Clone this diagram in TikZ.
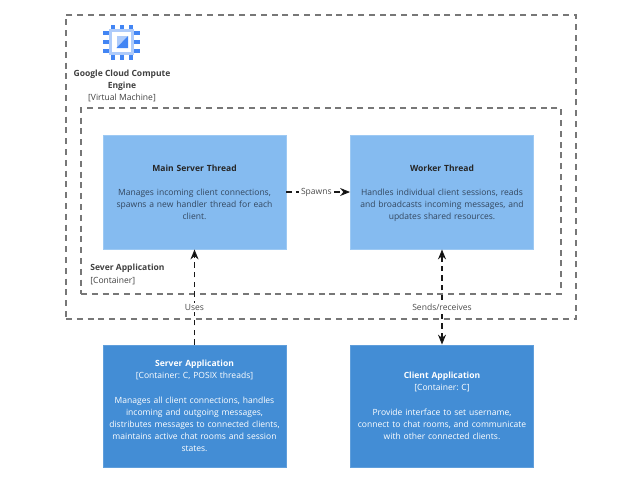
\documentclass[tikz,border=0pt]{standalone}
\usepackage{fontspec}
\setmainfont{Open Sans}
\usepackage{xcolor}
\usetikzlibrary{arrows.meta}
\definecolor{lightblock}{HTML}{85BBF0}
\definecolor{darkblock}{HTML}{438DD5}
\definecolor{chipblue}{HTML}{4285F4}
\definecolor{chiplight}{HTML}{AECBFA}
\definecolor{boundgray}{HTML}{777777}
\definecolor{desctext}{HTML}{33475F}
\newcommand{\titlerule}{\rule{0pt}{7.4pt}}
\tikzset{
    block/.style={shape=rectangle, minimum width=137.25pt, text width=130pt, align=center, font=\fontsize{6.4}{9.15}\selectfont},
    inner block/.style={block, fill=lightblock, draw=lightblock!80!white, minimum height=85.5pt, text=desctext},
    outer block/.style={block, fill=darkblock, draw=darkblock!85!white, minimum height=91.5pt, text=white},
    boundary/.style={draw=boundgray, dash pattern=on 4.5pt off 3.6pt, line width=0.85pt},
    caption/.style={align=center, text=black!75, font=\fontsize{6.4}{9.15}\selectfont},
    link/.style={draw=black!90, dash pattern=on 4pt off 3.2pt, line width=0.9pt},
    link text/.style={fill=white, text=black!70, inner sep=1.2pt, font=\fontsize{6.4}{9.15}\selectfont}
}
\begin{document}
\frenchspacing
\begin{tikzpicture}[
            x = 0.75pt, y = -0.75pt,
            > = {Stealth[length=7.5pt,width=6pt]}, % arrow head style
            semithick
        ]
\useasboundingbox (0,0) rectangle (640,480);

% boundaries
\node[boundary, shape=rectangle, minimum width=382.5pt, minimum height=228pt, inner sep=0pt] (engine) at (321,167) {};
\node[boundary, shape=rectangle, minimum width=360pt, minimum height=139.5pt, inner sep=0pt] (serverbox) at (321,201) {};

% chip icon
\foreach \i in {113,122,131} {
    \fill[chipblue] (\i-1.7,25) rectangle (\i+1.7,29);
    \fill[chipblue] (\i-1.7,55) rectangle (\i+1.7,60);
}
\foreach \i in {33,42,51} {
    \fill[chipblue] (103,\i-1.7) rectangle (109,\i+1.7);
    \fill[chipblue] (134,\i-1.7) rectangle (140,\i+1.7);
}
\fill[chiplight] (109,29) rectangle (134,55);
\fill[white] (112,32) rectangle (131,52);
\fill[chiplight] (116.5,36) rectangle (128,48);
\fill[chipblue] (116.5,48) -- (128,36) -- (128,48) -- cycle;

\node[caption] (enginelabel) at (122,86) {\textbf{Google Cloud Compute}\\\textbf{Engine}\\{[Virtual Machine]}};
\node[caption, align=left, anchor=west, inner sep=0pt] (serverlabel) at (90,274.5) {\textbf{Sever Application}\\{[Container]}};

% containers
\node[inner block] (main) at (194.5,192) {\titlerule\textbf{\color{black!85}Main Server Thread}\\[8.6pt]Manages incoming client connections,\\spawns a new handler thread for each\\client.\vphantom{g}};
\node[inner block] (worker) at (442,192) {\titlerule\textbf{\color{black!85}Worker Thread}\\[8.6pt]Handles individual client sessions, reads\\and broadcasts incoming messages, and\\updates shared resources.\vphantom{g}};
\node[outer block] (serverapp) at (194.5,406) {\textbf{Server Application}\\{[Container: C, POSIX threads]}\\[9.15pt]Manages all client connections, handles\\incoming and outgoing messages,\\distributes messages to connected clients,\\maintains active chat rooms and session\\states.};
\node[outer block] (clientapp) at (442,406) {\textbf{Client Application}\\{[Container: C]}\\[9.15pt]Provide interface to set username,\\connect to chat rooms, and communicate\\with other connected clients.};

% connectors
\path [->, link] (main) edge node[link text, pos=0.47] {Spawns} (worker);
\path [->, link] (serverapp) edge node[link text, pos=0.39] {Uses} (main);
\path [<->, link] (clientapp) edge node[link text, pos=0.39] {Sends/receives} (worker);
\end{tikzpicture}
\end{document}
